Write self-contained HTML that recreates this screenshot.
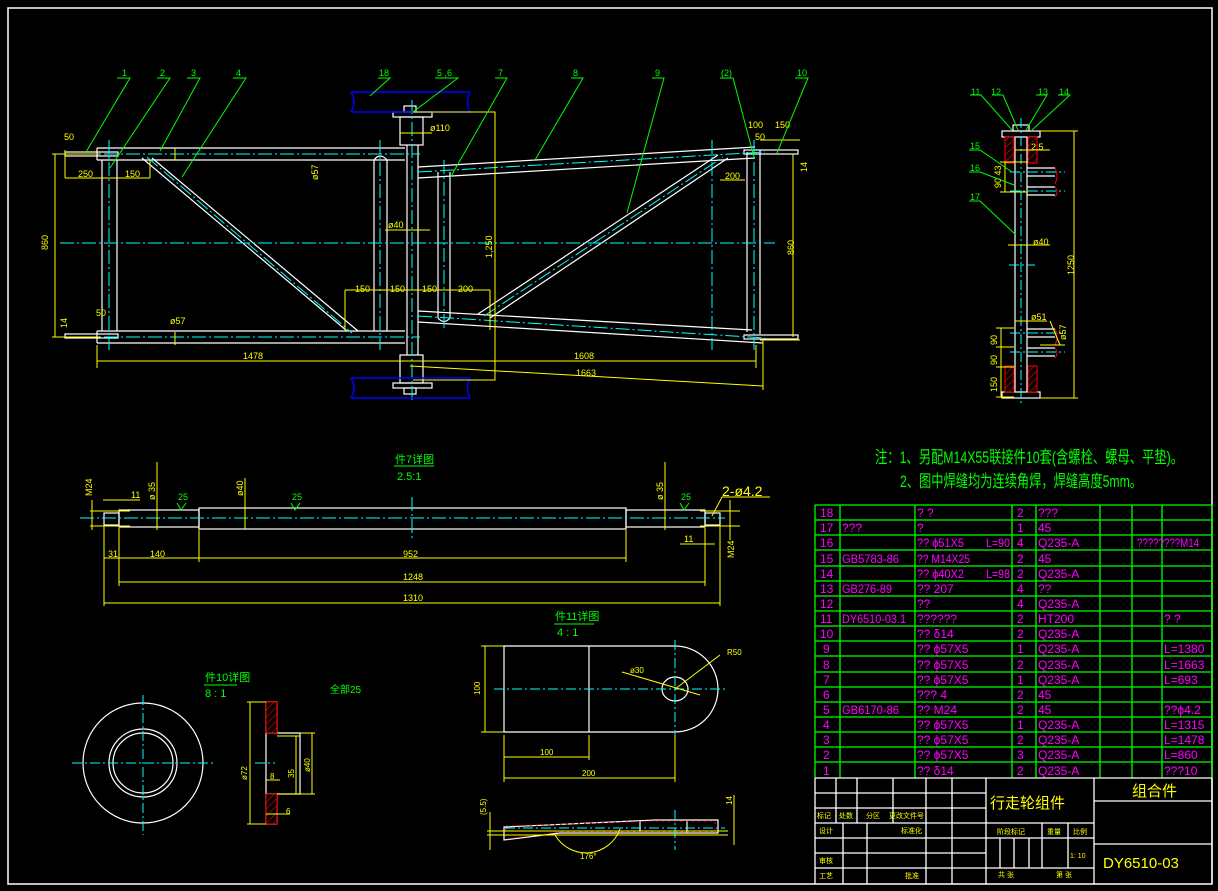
<!DOCTYPE html>
<html><head><meta charset="utf-8"><style>
html,body{margin:0;padding:0;background:#000;}
svg{display:block;}
text{font-family:"Liberation Sans","Noto Sans CJK SC",sans-serif;}
</style></head><body>
<svg width="1218" height="891" viewBox="0 0 1218 891" xmlns="http://www.w3.org/2000/svg">
<defs>
<pattern id="h" width="5" height="5" patternUnits="userSpaceOnUse" patternTransform="rotate(45)">
<rect width="5" height="5" fill="#000"/><line x1="0" y1="0" x2="0" y2="5" stroke="#f00" stroke-width="1.2"/></pattern>
</defs>
<rect width="1218" height="891" fill="#000"/>
<rect x="8" y="8" width="1204" height="876" fill="none" stroke="#fff" stroke-width="1.5"/>

<!-- ========== MAIN VIEW ========== -->
<g fill="none" stroke="#fff" stroke-width="1.2">
 <path d="M97 148 H405 M97 160 H405 M97 148 V160"/>
 <rect x="65" y="152" width="53" height="4"/>
 <rect x="65" y="334" width="53" height="4"/>
 <path d="M97 331 H405 M97 343 H405 M97 331 V343"/>
 <path d="M102 160 V331 M117 160 V331"/>
 <path d="M142 158 L347 331 M152 158 L358 331"/>
 <path d="M374 160 V331 M387 160 V331 M374 160 Q380 152 387 160"/>
 <path d="M407 145 V355 M418 145 V355"/>
 <rect x="400" y="117" width="23" height="28"/>
 <rect x="393" y="112" width="39" height="5"/>
 <rect x="400" y="355" width="23" height="28"/>
 <rect x="393" y="383" width="39" height="5"/>
 <rect x="404" y="106" width="12" height="6"/>
 <rect x="404" y="388" width="12" height="6"/>
 <path d="M438 172 V318 M450 172 V318 M438 318 Q444 325 450 318"/>
 <path d="M418 167 L755 147 M418 178 L755 158"/>
 <path d="M418 311 L752 330 M418 322 L763 343"/>
 <path d="M747 152 V332 M760 150 V334"/>
 <rect x="744" y="150" width="54" height="4"/>
 <rect x="744" y="335" width="54" height="4"/>
 <path d="M478 314 L718 155 M490 318 L728 158"/>
</g>
<g fill="none" stroke="#0ff" stroke-width="1" stroke-dasharray="14 3 2 3">
 <path d="M60 243 H775"/>
 <path d="M60 154 H420"/>
 <path d="M60 337 H420"/>
 <path d="M109 140 V350"/>
 <path d="M380 140 V350"/>
 <path d="M412 100 V400"/>
 <path d="M444 160 V330"/>
 <path d="M147 157 L352 333"/>
 <path d="M418 172 L765 152"/>
 <path d="M418 316 L765 338"/>
 <path d="M484 316 L723 157"/>
 <path d="M754 140 V350"/>
 <path d="M712 140 V350"/>
</g>
<g fill="none" stroke="#00f" stroke-width="1.5">
 <path d="M351 92 H470 M351 112 H470 M351 92 Q357 102 351 112 M470 92 Q465 102 470 112"/>
 <path d="M351 378 H470 M351 398 H470 M351 378 Q357 388 351 398 M470 378 Q465 388 470 398"/>
</g>
<g fill="none" stroke="#ff0" stroke-width="1">
 <path d="M52 154 H100 M52 337 H100 M55 154 V337"/>
 <path d="M97 345 V368 M756 345 V368 M97 361 H756"/>
 <path d="M410 366 L763 386 M763 340 V390"/>
 <path d="M413 112 H495 V380 H413"/>
 <path d="M65 178 H150 M65 150 V178 M150 160 V178"/>
 <path d="M345 290 H490 M345 290 V330 M490 290 V330"/>
 <path d="M720 180 H745 M760 140 H800 M760 340 H800 M793 154 V337"/>
 <path d="M175 148 V160 M175 332 V345"/>
 <path d="M400 133 H432"/>
 <path d="M385 230 H430"/>
</g>
<g fill="#ff0" font-size="9">
 <text x="64" y="140">50</text>
 <text x="78" y="177">250</text>
 <text x="125" y="177">150</text>
 <text x="48" y="250" transform="rotate(-90 48 250)">860</text>
 <text x="67" y="328" transform="rotate(-90 67 328)">14</text>
 <text x="96" y="316">50</text>
 <text x="170" y="324">ø57</text>
 <text x="318" y="180" transform="rotate(-90 318 180)">ø57</text>
 <text x="243" y="359">1478</text>
 <text x="574" y="359">1608</text>
 <text x="576" y="376">1663</text>
 <text x="388" y="228">ø40</text>
 <text x="430" y="131">ø110</text>
 <text x="492" y="258" transform="rotate(-90 492 258)">1,250</text>
 <text x="355" y="292">150</text>
 <text x="390" y="292">150</text>
 <text x="422" y="292">150</text>
 <text x="458" y="292">200</text>
 <text x="725" y="179">200</text>
 <text x="748" y="128">100</text>
 <text x="775" y="128">150</text>
 <text x="755" y="140">50</text>
 <text x="794" y="255" transform="rotate(-90 794 255)">860</text>
 <text x="807" y="172" transform="rotate(-90 807 172)">14</text>
</g>
<g fill="none" stroke="#0f0" stroke-width="1">
 <path d="M117 78 H130 L86 152"/>
 <path d="M157 78 H170 L110 168"/>
 <path d="M187 78 H200 L160 151"/>
 <path d="M233 78 H246 L182 177"/>
 <path d="M378 78 H390 L370 96"/>
 <path d="M435 78 H458 L413 112"/>
 <path d="M495 78 H507 L450 178"/>
 <path d="M571 78 H583 L535 160"/>
 <path d="M652 78 H664 L627 213"/>
 <path d="M720 78 H733 L754 157"/>
 <path d="M795 78 H808 L777 153"/>
</g>
<g fill="#0f0" font-size="9">
 <text x="122" y="76">1</text><text x="160" y="76">2</text><text x="191" y="76">3</text><text x="236" y="76">4</text>
 <text x="379" y="76">18</text><text x="437" y="76">5 ,6</text><text x="498" y="76">7</text><text x="573" y="76">8</text>
 <text x="655" y="76">9</text><text x="721" y="76">(2)</text><text x="797" y="76">10</text>
</g>

<!-- ========== RIGHT SIDE VIEW ========== -->
<g fill="none" stroke="#fff" stroke-width="1.2">
 <rect x="1002" y="131" width="38" height="6"/>
 <rect x="1002" y="392" width="38" height="6"/>
 <path d="M1015 137 V392 M1027 137 V392"/>
 <path d="M1027 168 H1055 M1027 176 H1055 M1027 187 H1055 M1027 195 H1055"/>
 <path d="M1027 329 H1055 M1027 337 H1055 M1027 348 H1055 M1027 356 H1055"/>
 <rect x="1013" y="125" width="16" height="6"/>
</g>
<g fill="url(#h)" stroke="#f00" stroke-width="1">
 <rect x="1005" y="137" width="9" height="26"/><rect x="1028" y="137" width="9" height="26"/>
 <rect x="1005" y="366" width="9" height="26"/><rect x="1028" y="366" width="9" height="26"/>
 <path d="M1055 168 q4 8 0 16 M1055 187 q4 5 0 10 M1055 329 q4 8 0 16 M1055 348 q4 5 0 10" fill="none"/>
</g>
<g fill="none" stroke="#0ff" stroke-width="1" stroke-dasharray="10 3 2 3">
 <path d="M1021 118 V405"/>
 <path d="M1010 172 H1065 M1010 191 H1065 M1010 333 H1065 M1010 352 H1065 M1009 265 H1035"/>
</g>
<g fill="none" stroke="#ff0" stroke-width="1">
 <path d="M1040 131 H1078 M1040 398 H1078 M1074 131 V398"/>
 <path d="M1000 162 H1028 M1000 192 H1028 M1005 162 V192 M1015 150 H1050"/>
 <path d="M1008 245 H1050 M1015 321 H1047"/>
 <path d="M996 328 H1014 M996 347 H1014 M996 367 H1014 M996 397 H1014 M1001 328 V397"/>
 <path d="M1050 321 L1060 345 M1040 345 H1065"/>
</g>
<g fill="#ff0" font-size="9">
 <text x="1031" y="150">2.5</text>
 <text x="1001" y="188" transform="rotate(-90 1001 188)">90 43</text>
 <text x="1033" y="245">ø40</text>
 <text x="1074" y="275" transform="rotate(-90 1074 275)">1250</text>
 <text x="1031" y="320">ø51</text>
 <text x="1066" y="340" transform="rotate(-90 1066 340)">ø57</text>
 <text x="997" y="345" transform="rotate(-90 997 345)">90</text>
 <text x="997" y="365" transform="rotate(-90 997 365)">90</text>
 <text x="997" y="392" transform="rotate(-90 997 392)">150</text>
</g>
<g fill="none" stroke="#0f0" stroke-width="1">
 <path d="M970 95 H981 L1012 130 M992 95 H1003 L1018 130 M1036 95 H1047 L1026 130 M1058 95 H1070 L1032 130"/>
 <path d="M969 150 H980 L1012 172 M969 172 H980 L1014 185 M969 201 H980 L1016 235"/>
</g>
<g fill="#0f0" font-size="9">
 <text x="971" y="95">11</text><text x="991" y="95">12</text><text x="1038" y="95">13</text><text x="1059" y="95">14</text>
 <text x="970" y="149">15</text><text x="970" y="171">16</text><text x="970" y="200">17</text>
</g>

<!-- ========== NOTES ========== -->
<g fill="#0f0" font-size="17">
 <text x="875" y="463" textLength="308" lengthAdjust="spacingAndGlyphs">注：1、另配M14X55联接件10套(含螺栓、螺母、平垫)。</text>
 <text x="900" y="487" textLength="242" lengthAdjust="spacingAndGlyphs">2、图中焊缝均为连续角焊，焊缝高度5mm。</text>
</g>

<!-- ========== SHAFT DETAIL 件7 ========== -->
<g fill="none" stroke="#fff" stroke-width="1.2">
 <rect x="199" y="508" width="427" height="21"/>
 <rect x="119" y="510" width="80" height="17"/>
 <rect x="626" y="510" width="79" height="17"/>
 <rect x="104" y="513" width="15" height="12"/>
 <rect x="705" y="513" width="15" height="12"/>
</g>
<path d="M80 518 H725 M412 497 V540" stroke="#0ff" stroke-width="1" stroke-dasharray="14 3 2 3"/>
<g fill="none" stroke="#ff0" stroke-width="1">
 <path d="M104 525 V606 M119 528 V586 M199 530 V562 M626 530 V562 M705 528 V586 M720 525 V606"/>
 <path d="M104 558 H199 M199 558 H626 M119 582 H705 M104 603 H720"/>
 <path d="M90 511 H130 M90 526 H130 M92 500 V530 M157 462 V530 M245 478 V529"/>
 <path d="M665 462 V530 M700 511 H740 M700 526 H740 M730 500 V540 M712 516 L722 497 H770"/>
 <path d="M103 500 H140 M680 544 H715"/>
</g>
<g fill="#ff0" font-size="9">
 <text x="108" y="557">31</text><text x="150" y="557">140</text><text x="403" y="557">952</text>
 <text x="403" y="580">1248</text><text x="403" y="601">1310</text>
 <text x="131" y="498">11</text><text x="684" y="542">11</text>
 <text x="92" y="496" transform="rotate(-90 92 496)">M24</text>
 <text x="155" y="500" transform="rotate(-90 155 500)">ø 35</text>
 <text x="243" y="496" transform="rotate(-90 243 496)">ø40</text>
 <text x="663" y="500" transform="rotate(-90 663 500)">ø 35</text>
 <text x="734" y="558" transform="rotate(-90 734 558)">M24</text>
 <text x="722" y="496" font-size="14">2-ø4.2</text>
</g>
<g fill="none" stroke="#0f0" stroke-width="1">
 <path d="M177 503 L181 510 L186 503 M291 503 L295 510 L300 503 M680 503 L684 510 L689 503"/>
</g>
<g fill="#0f0" font-size="9">
 <text x="178" y="500">25</text><text x="292" y="500">25</text><text x="681" y="500">25</text>
 <text x="395" y="463" font-size="11">件7详图</text>
 <text x="397" y="480" font-size="11">2.5:1</text>
</g>
<path d="M394 466 H434" stroke="#0f0"/>

<!-- ========== 件10 ========== -->
<g fill="none" stroke="#fff" stroke-width="1.2">
 <circle cx="143" cy="763" r="60"/>
 <circle cx="143" cy="763" r="34"/>
 <circle cx="143" cy="763" r="30"/>
 <path d="M266 702 H277 V733 H300 V794 H277 V824 H266 Z M266 733 H277 M266 794 H277"/>
</g>
<g fill="url(#h)" stroke="#f00" stroke-width="1">
 <rect x="266" y="702" width="11" height="31"/><rect x="266" y="794" width="11" height="30"/>
</g>
<path d="M72 763 H215 M143 695 V835 M255 763 H275" stroke="#0ff" stroke-width="1" stroke-dasharray="10 3 2 3"/>
<g fill="none" stroke="#ff0" stroke-width="1">
 <path d="M247 702 H266 M247 824 H266 M250 702 V824 M300 733 H315 M300 794 H315 M312 733 V794 M277 736 H300 M277 794 H300 M296 736 V794 M266 780 H280 M266 814 H290"/>
</g>
<g fill="#ff0" font-size="8">
 <text x="247" y="780" transform="rotate(-90 247 780)">ø72</text>
 <text x="294" y="778" transform="rotate(-90 294 778)">35</text>
 <text x="310" y="772" transform="rotate(-90 310 772)">ø40</text>
 <text x="270" y="779">8</text><text x="286" y="814">6</text>
</g>
<g fill="#0f0" font-size="11">
 <text x="205" y="681">件10详图</text><text x="205" y="697">8 : 1</text>
 <text x="330" y="693" font-size="10">全部25</text>
</g>
<path d="M204 685 H237" stroke="#0f0"/>

<!-- ========== 件11 ========== -->
<g fill="none" stroke="#fff" stroke-width="1.2">
 <path d="M504 646 H675 A43 43 0 0 1 675 732 H504 Z"/>
 <path d="M589 646 V732"/>
 <ellipse cx="675" cy="689" rx="13" ry="12"/>
 <path d="M504 827 L655 820 H718 V833 H560 L504 840 Z M640 820 V833 M687 820 V833"/>
</g>
<path d="M506 826 L655 821 H715 V832 H560 L506 839 Z" fill="none" stroke="#f00" stroke-dasharray="2 4"/>
<path d="M494 689 H728 M675 640 V738 M675 810 V850 M505 828 H725" stroke="#0ff" stroke-width="1" stroke-dasharray="10 3 2 3"/>
<g fill="none" stroke="#ff0" stroke-width="1">
 <path d="M481 646 H504 M481 732 H504 M485 646 V732"/>
 <path d="M504 735 V782 M589 735 V760 M675 735 V782 M504 757 H589 M504 778 H675"/>
 <path d="M622 672 L700 695 M675 689 L720 655"/>
 <path d="M490 812 V850 M487 835 H728 M487 831 H728 M734 795 V845"/>
 <path d="M555 835 A36 36 0 0 0 620 829"/>
</g>
<g fill="#ff0" font-size="8">
 <text x="480" y="695" transform="rotate(-90 480 695)">100</text>
 <text x="540" y="755">100</text><text x="582" y="776">200</text>
 <text x="630" y="673">ø30</text><text x="727" y="655">R50</text>
 <text x="486" y="815" transform="rotate(-90 486 815)">(5.5)</text>
 <text x="732" y="805" transform="rotate(-90 732 805)">14</text>
 <text x="580" y="859">176°</text>
</g>
<g fill="#0f0" font-size="11">
 <text x="555" y="620">件11详图</text><text x="557" y="636">4 : 1</text>
</g>
<path d="M554 624 H594" stroke="#0f0"/>

<!-- ========== PARTS TABLE ========== -->
<g stroke="#0f0" stroke-width="1.3" fill="none">
 <path d="M815 505 V778 M840 505 V778 M915 505 V778 M1012 505 V778 M1036 505 V778 M1100 505 V778 M1132 505 V778 M1162 505 V778 M1212 505 V778"/>
 <path d="M815 505 H1212 M815 520 H1212 M815 535 H1212 M815 550 H1212 M815 566 H1212 M815 581 H1212 M815 596 H1212 M815 611 H1212 M815 626 H1212 M815 641 H1212 M815 656 H1212 M815 672 H1212 M815 687 H1212 M815 702 H1212 M815 717 H1212 M815 732 H1212 M815 747 H1212 M815 762 H1212"/>
</g>
<g fill="#f0f" font-size="12">
 <text x="820" y="517">18</text><text x="917" y="517">? ?</text><text x="1017" y="517">2</text><text x="1038" y="517">???</text>
 <text x="820" y="532">17</text><text x="842" y="532">???</text><text x="917" y="532">?</text><text x="1017" y="532">1</text><text x="1038" y="532">45</text>
 <text x="820" y="547">16</text><text x="917" y="547" textLength="47" lengthAdjust="spacingAndGlyphs">?? ϕ51X5</text><text x="986" y="547" textLength="24" lengthAdjust="spacingAndGlyphs">L=90</text><text x="1017" y="547">4</text><text x="1038" y="547">Q235-A</text><text x="1137" y="547" textLength="62" lengthAdjust="spacingAndGlyphs">????????M14</text>
 <text x="820" y="563">15</text><text x="842" y="563" textLength="57" lengthAdjust="spacingAndGlyphs">GB5783-86</text><text x="917" y="563" textLength="53" lengthAdjust="spacingAndGlyphs">?? M14X25</text><text x="1017" y="563">2</text><text x="1038" y="563">45</text>
 <text x="820" y="578">14</text><text x="917" y="578" textLength="47" lengthAdjust="spacingAndGlyphs">?? ϕ40X2</text><text x="986" y="578" textLength="24" lengthAdjust="spacingAndGlyphs">L=98</text><text x="1017" y="578">2</text><text x="1038" y="578">Q235-A</text>
 <text x="820" y="593">13</text><text x="842" y="593" textLength="50" lengthAdjust="spacingAndGlyphs">GB276-89</text><text x="917" y="593">?? 207</text><text x="1017" y="593">4</text><text x="1038" y="593">??</text>
 <text x="820" y="608">12</text><text x="917" y="608">??</text><text x="1017" y="608">4</text><text x="1038" y="608">Q235-A</text>
 <text x="820" y="623">11</text><text x="842" y="623" textLength="64" lengthAdjust="spacingAndGlyphs">DY6510-03.1</text><text x="917" y="623">??????</text><text x="1017" y="623">2</text><text x="1038" y="623">HT200</text><text x="1164" y="623">? ?</text>
 <text x="820" y="638">10</text><text x="917" y="638">?? δ14</text><text x="1017" y="638">2</text><text x="1038" y="638">Q235-A</text>
 <text x="823" y="653">9</text><text x="917" y="653">?? ϕ57X5</text><text x="1017" y="653">1</text><text x="1038" y="653">Q235-A</text><text x="1164" y="653">L=1380</text>
 <text x="823" y="669">8</text><text x="917" y="669">?? ϕ57X5</text><text x="1017" y="669">2</text><text x="1038" y="669">Q235-A</text><text x="1164" y="669">L=1663</text>
 <text x="823" y="684">7</text><text x="917" y="684">?? ϕ57X5</text><text x="1017" y="684">1</text><text x="1038" y="684">Q235-A</text><text x="1164" y="684">L=693</text>
 <text x="823" y="699">6</text><text x="917" y="699">??? 4</text><text x="1017" y="699">2</text><text x="1038" y="699">45</text>
 <text x="823" y="714">5</text><text x="842" y="714" textLength="57" lengthAdjust="spacingAndGlyphs">GB6170-86</text><text x="917" y="714">?? M24</text><text x="1017" y="714">2</text><text x="1038" y="714">45</text><text x="1164" y="714">??ϕ4.2</text>
 <text x="823" y="729">4</text><text x="917" y="729">?? ϕ57X5</text><text x="1017" y="729">1</text><text x="1038" y="729">Q235-A</text><text x="1164" y="729">L=1315</text>
 <text x="823" y="744">3</text><text x="917" y="744">?? ϕ57X5</text><text x="1017" y="744">2</text><text x="1038" y="744">Q235-A</text><text x="1164" y="744">L=1478</text>
 <text x="823" y="759">2</text><text x="917" y="759">?? ϕ57X5</text><text x="1017" y="759">3</text><text x="1038" y="759">Q235-A</text><text x="1164" y="759">L=860</text>
 <text x="823" y="775">1</text><text x="917" y="775">?? δ14</text><text x="1017" y="775">2</text><text x="1038" y="775">Q235-A</text><text x="1164" y="775">???10</text>
</g>

<!-- ========== TITLE BLOCK ========== -->
<g stroke="#fff" stroke-width="1.3" fill="none">
 <path d="M815 778 H1212 M815 778 V884 M986 778 V884 M1094 778 V884 M1212 778 V884"/>
 <path d="M815 793 H986 M815 808 H986 M815 823 H1094 M815 838 H1094 M815 853 H986 M815 868 H1094 M1094 801 H1212 M1094 844 H1212"/>
 <path d="M836 778 V823 M857 778 V823 M893 778 V823 M926 778 V884 M952 778 V884 M843 823 V884 M867 823 V884 M1042 823 V868 M1068 823 V868 M1000 838 V868 M1014 838 V868 M1029 838 V868"/>
</g>
<g fill="#ff0">
 <text x="990" y="808" font-size="15">行走轮组件</text>
 <text x="1132" y="796" font-size="15">组合件</text>
 <text x="1103" y="868" font-size="15">DY6510-03</text>
 <g font-size="7">
  <text x="817" y="818">标记</text><text x="839" y="818">处数</text><text x="866" y="818">分区</text><text x="889" y="818">更改文件号</text>
  <text x="819" y="833">设计</text><text x="901" y="833">标准化</text>
  <text x="819" y="863">审核</text><text x="819" y="878">工艺</text><text x="905" y="878">批准</text>
  <text x="997" y="834">阶段标记</text><text x="1047" y="834">重量</text><text x="1073" y="834">比例</text>
  <text x="1070" y="858">1: 10</text>
  <text x="998" y="877">共 张</text><text x="1056" y="877">第 张</text>
 </g>
</g>
</svg>
</body></html>
